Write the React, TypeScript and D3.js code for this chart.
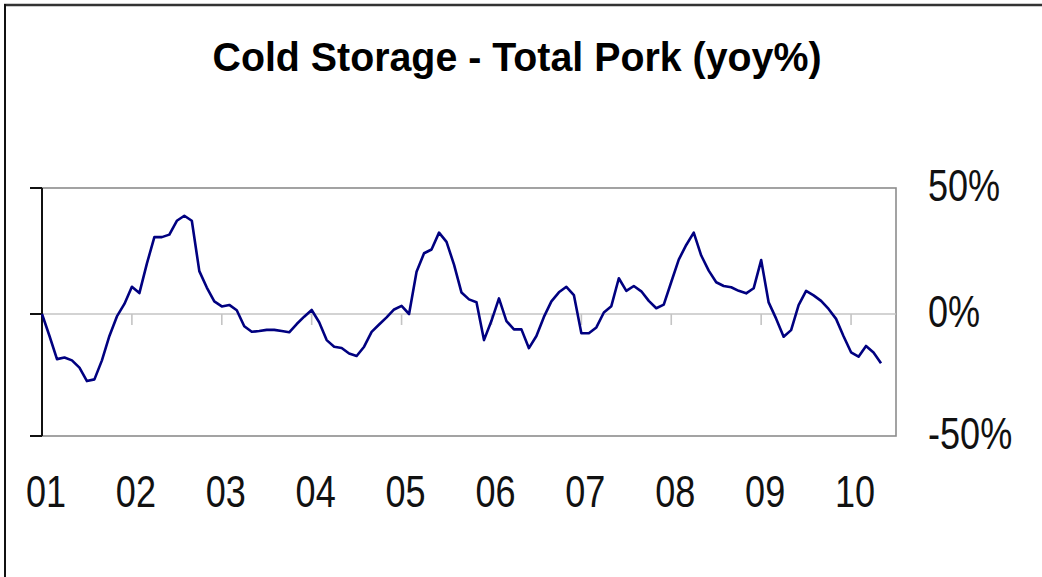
import * as d3 from "d3";

// year-over-year % change, monthly from Jan 2001
const yoy = [
  0, -9, -18.5, -17.8, -19, -22, -27.5, -26.8, -19, -9,
  -1, 4, 10.8, 8.3, 20, 30.5, 30.5, 31.5, 37, 39,
  37, 17, 10.5, 5, 3, 3.6, 1.5, -5, -7.3, -7,
  -6.5, -6.5, -7, -7.5, -4.1, -1.1, 1.6, -3.4, -10.7, -13.4,
  -13.9, -16.2, -17.2, -13.4, -7.3, -4.3, -1.4, 1.8, 3.2, 0,
  16.8, 24.1, 25.6, 32.3, 28.6, 19.6, 8.5, 5.8, 4.7, -10.7,
  -2.8, 6.2, -2.9, -6.3, -6.3, -14, -9, -1.2, 5, 8.6,
  10.8, 7.5, -7.9, -7.9, -5.5, 0.6, 3.1, 14.2, 9.2, 11.1,
  9, 5.2, 2.3, 3.7, 12.7, 21.6, 27.4, 32.3, 23.2, 17.2,
  12.6, 11.1, 10.6, 9.2, 8.2, 10.2, 21.4, 4.6, -1.9, -9.3,
  -6.6, 3.5, 9.2, 7.4, 5.2, 2, -2, -9.1, -15.7, -17.5,
  -13.1, -15.8, -20.2,
];

const yearLabels = ["01", "02", "03", "04", "05", "06", "07", "08", "09", "10"];
const yTicks = [50, 0, -50];

const W = 1042;
const H = 577;
const left = 42;
const right = 896;
const top = 188;
const bottom = 436;
const zeroY = 314;

export default function App() {
  const x = d3.scaleLinear().domain([0, 114]).range([left, right]);
  const y = d3.scaleLinear().domain([-50, 0, 50]).range([bottom, zeroY, top]);

  const line = d3
    .line<number>()
    .x((_, i) => x(i))
    .y((d) => y(d));

  const font = "'Liberation Sans', Arial, sans-serif";

  return (
    <svg
      width={W}
      height={H}
      style={{ position: "absolute", left: 0, top: 0, background: "#fff" }}
    >
      {/* outer frame */}
      <line x1={4} y1={5} x2={W} y2={5} stroke="#333" strokeWidth={2.5} />
      <line x1={5} y1={4} x2={5} y2={H} stroke="#111" strokeWidth={2} />

      <text
        x={517}
        y={71}
        textAnchor="middle"
        fontFamily={font}
        fontWeight="bold"
        fontSize={40}
        textLength={609}
        lengthAdjust="spacingAndGlyphs"
        fill="#000"
      >
        Cold Storage - Total Pork (yoy%)
      </text>

      {/* plot frame */}
      <rect
        x={left}
        y={top}
        width={right - left}
        height={bottom - top}
        fill="none"
        stroke="#8c8c8c"
        strokeWidth={1.6}
      />
      <line x1={left} x2={right} y1={y(0)} y2={y(0)} stroke="#c4c4c4" strokeWidth={1.6} />

      {/* category ticks on the zero line */}
      {yearLabels.slice(1).map((_, i) => (
        <line
          key={i}
          x1={x((i + 1) * 12)}
          x2={x((i + 1) * 12)}
          y1={y(0)}
          y2={y(0) + 11}
          stroke="#c4c4c4"
          strokeWidth={1.6}
        />
      ))}

      {/* left value axis */}
      <line x1={left} x2={left} y1={top} y2={bottom} stroke="#111" strokeWidth={2} />
      {yTicks.map((t) => (
        <line key={t} x1={left - 12} x2={left} y1={y(t)} y2={y(t)} stroke="#111" strokeWidth={2} />
      ))}

      <path d={line(yoy) ?? ""} fill="none" stroke="#000080" strokeWidth={2.6} strokeLinejoin="round" />

      {yTicks.map((t) => (
        <text
          key={t}
          transform={`translate(928,${y(t) + 13}) scale(0.82,1)`}
          fontFamily={font}
          fontSize={44}
          fill="#111"
        >
          {t + "%"}
        </text>
      ))}

      {yearLabels.map((lab, i) => (
        <text
          key={lab}
          transform={`translate(${x(i * 12) + 4},507) scale(0.82,1)`}
          textAnchor="middle"
          fontFamily={font}
          fontSize={44}
          fill="#111"
        >
          {lab}
        </text>
      ))}
    </svg>
  );
}
